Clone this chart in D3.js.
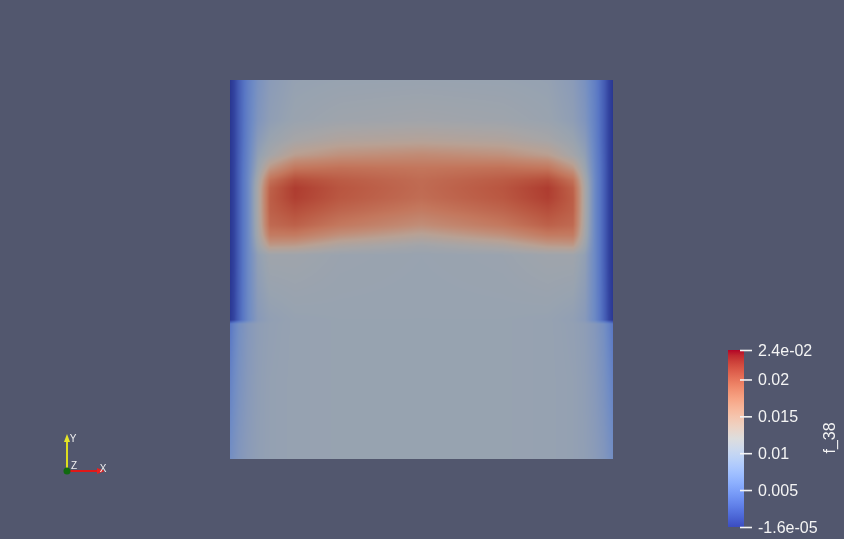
<!DOCTYPE html>
<html><head><meta charset="utf-8">
<script src="https://cdn.jsdelivr.net/npm/d3@7"></script>
<style>
html,body{margin:0;padding:0;background:#52576e;overflow:hidden}
#wrap{position:relative;width:844px;height:539px}
canvas,svg{position:absolute;left:0;top:0}
text{font-family:"Liberation Sans",Arial,sans-serif}
</style></head>
<body><div id="wrap"></div>
<script>
// ---- data ----
const fieldName = "f_38";
const valueMin = -1.6e-5, valueMax = 0.024;
// mesh node coordinates (x left->right, y top->bottom, unit square)
const xNodes = [0,0.0104,0.0235,0.0470,0.0731,0.1044,0.1697,0.2872,0.5,0.7128,0.8303,0.8956,0.9269,0.9530,0.9765,0.9896,1];
const yNodes = [1,0.8945,0.8417,0.8021,0.7678,0.7361,0.7150,0.6887,0.6570,0.6174,0.5910,0.5646,0.5383,0.3668,0.3562,0.2084,0];
// f_38 at the nodes, one row per yNode
const fieldRows = [
 [.0003,.0012,.0030,.0058,.0080,.0094,.0103,.0105,.0106,.0105,.0103,.0094,.0080,.0058,.0030,.0012,.0003],
 [.0003,.0012,.0030,.0060,.0085,.0098,.0107,.0112,.0115,.0112,.0107,.0098,.0085,.0060,.0030,.0012,.0003],
 [.0003,.0012,.0030,.0062,.0093,.0107,.0120,.0130,.0134,.0130,.0120,.0107,.0093,.0062,.0030,.0012,.0003],
 [.0003,.0012,.0031,.0064,.0100,.0118,.0142,.0154,.0160,.0154,.0142,.0118,.0100,.0064,.0031,.0012,.0003],
 [.0003,.0012,.0032,.0066,.0108,.0148,.0179,.0184,.0180,.0184,.0179,.0148,.0108,.0066,.0032,.0012,.0003],
 [.0003,.0012,.0032,.0068,.0118,.0183,.0213,.0201,.0188,.0201,.0213,.0183,.0118,.0068,.0032,.0012,.0003],
 [.0003,.0012,.0032,.0068,.0122,.0196,.0226,.0206,.0189,.0206,.0226,.0196,.0122,.0068,.0032,.0012,.0003],
 [.0003,.0012,.0032,.0068,.0122,.0199,.0224,.0204,.0187,.0204,.0224,.0199,.0122,.0068,.0032,.0012,.0003],
 [.0003,.0012,.0032,.0068,.0122,.0197,.0212,.0194,.0176,.0194,.0212,.0197,.0122,.0068,.0032,.0012,.0003],
 [.0003,.0012,.0032,.0068,.0120,.0190,.0197,.0178,.0157,.0178,.0197,.0190,.0120,.0068,.0032,.0012,.0003],
 [.0003,.0012,.0032,.0068,.0117,.0175,.0176,.0155,.0136,.0155,.0176,.0175,.0117,.0068,.0032,.0012,.0003],
 [.0003,.0012,.0032,.0068,.0110,.0148,.0146,.0128,.0116,.0128,.0146,.0148,.0110,.0068,.0032,.0012,.0003],
 [.0003,.0012,.0032,.0068,.0100,.0113,.0113,.0108,.0106,.0108,.0113,.0113,.0100,.0068,.0032,.0012,.0003],
 [.0004,.0014,.0034,.0068,.0092,.0100,.0104,.0105,.0105,.0105,.0104,.0100,.0092,.0068,.0034,.0014,.0004],
 [.0048,.0062,.0076,.0089,.0097,.0101,.0104,.0105,.0105,.0105,.0104,.0101,.0097,.0089,.0076,.0062,.0048],
 [.0060,.0070,.0080,.0091,.0098,.0102,.0104,.0105,.0105,.0105,.0104,.0102,.0098,.0091,.0080,.0070,.0060],
 [.0074,.0080,.0087,.0094,.0099,.0102,.0104,.0105,.0105,.0105,.0104,.0102,.0099,.0094,.0087,.0080,.0074]
];
const tickValues = [-1.6e-5, 0.005, 0.01, 0.015, 0.02, 0.024];
const tickLabels = ["-1.6e-05","0.005","0.01","0.015","0.02","2.4e-02"];

// ---- styles ----
const coolwarm = ["#3b4cc0","#445acc","#4d68d7","#5775e1","#6282ea","#6c8ef1","#779af7","#82a5fb","#8db0fe","#98b9ff","#a3c2ff","#aec9fd","#b8d0f9","#c2d5f4","#ccd9ee","#d5dbe6","#dddddd","#e5d8d1","#ecd3c5","#f1ccb9","#f5c4ad","#f7bba0","#f7b194","#f7a687","#f49a7b","#f18d6f","#ec7f63","#e57058","#de604d","#d55042","#cb3e38","#c0282f","#b40426"];
const shadeT = [0,0.05,0.12,0.20,0.30,0.38,0.44,0.50,0.58,0.66,0.75,0.85,0.93,1];
const shadeC = ["#26328c","#32429e","#445cb4","#5876c4","#708cc4","#8799ba","#98a3b0","#a6a5a7","#b8a194","#c18c76","#c3765c","#ba5842","#b04032","#a52828"];

const W = 844, H = 539;
const panel = {x:230, y:80, w:383, h:379};
const wrap = d3.select("#wrap");

// field
const xs = d3.scaleLinear().domain([0,1]).range([0, panel.w]);
const ys = d3.scaleLinear().domain([1,0]).range([0, panel.h]);
const tScale = d3.scaleLinear().domain([valueMin, valueMax]).range([0,1]).clamp(true);
const shade = d3.scaleLinear().domain(shadeT).range(shadeC).interpolate(d3.interpolateRgb).clamp(true);

const canvas = wrap.append("canvas").attr("width", panel.w).attr("height", panel.h)
  .style("left", panel.x+"px").style("top", panel.y+"px");
const ctx = canvas.node().getContext("2d");
const img = ctx.createImageData(panel.w, panel.h);
function findIdx(arr, v, desc){
  for (let i=0;i<arr.length-1;i++){
    const a=arr[i], b=arr[i+1];
    if (desc ? (v<=a && v>=b) : (v>=a && v<=b)) return i;
  }
  return arr.length-2;
}
const lut = d3.range(1025).map(i => d3.rgb(shade(i/1024)));
for (let py=0; py<panel.h; py++){
  const my = ys.invert(py+0.5);
  const j = findIdx(yNodes, my, true);
  const fy = (my - yNodes[j])/(yNodes[j+1]-yNodes[j]);
  for (let px=0; px<panel.w; px++){
    const mx = xs.invert(px+0.5);
    const i = findIdx(xNodes, mx, false);
    const fx = (mx - xNodes[i])/(xNodes[i+1]-xNodes[i]);
    const a = fieldRows[j][i], b = fieldRows[j][i+1], c = fieldRows[j+1][i], d = fieldRows[j+1][i+1];
    const v = (a*(1-fx)+b*fx)*(1-fy) + (c*(1-fx)+d*fx)*fy;
    const col = lut[Math.round(tScale(v)*1024)];
    const k = (py*panel.w+px)*4;
    img.data[k]=col.r; img.data[k+1]=col.g; img.data[k+2]=col.b; img.data[k+3]=255;
  }
}
ctx.putImageData(img,0,0);

// overlay svg
const svg = wrap.append("svg").attr("width", W).attr("height", H);
const defs = svg.append("defs");
const grad = defs.append("linearGradient").attr("id","cw").attr("x1",0).attr("y1",1).attr("x2",0).attr("y2",0);
coolwarm.forEach((c,i)=>grad.append("stop").attr("offset", i/(coolwarm.length-1)).attr("stop-color", c));

const bar = {x:728, y:350, w:16, h:177};
const cy = d3.scaleLinear().domain([valueMin, valueMax]).range([bar.y+bar.h, bar.y]);
svg.append("rect").attr("x",bar.x).attr("y",bar.y).attr("width",bar.w).attr("height",bar.h).attr("fill","url(#cw)");
const axis = d3.axisRight(cy).tickValues(tickValues).tickSize(12).tickPadding(6)
  .tickFormat((d,i)=>tickLabels[i]);
const ag = svg.append("g").attr("transform",`translate(${bar.x+12},0)`).call(axis);
ag.select(".domain").remove();
ag.selectAll(".tick line").attr("stroke","#f4f4f4").attr("stroke-width",1.6);
ag.selectAll(".tick text").attr("fill","#f4f4f4").style("font-size","16px").style("font-family","'Liberation Sans',Arial,sans-serif");
svg.append("text").attr("transform","translate(829,438) rotate(-90)")
  .attr("text-anchor","middle").attr("dominant-baseline","central")
  .attr("fill","#f4f4f4").style("font-size","16px").text(fieldName);

// orientation triad
const o = {x:67, y:471};
const tri = svg.append("g");
tri.append("line").attr("x1",o.x).attr("y1",o.y).attr("x2",o.x).attr("y2",o.y-30).attr("stroke","#dede1e").attr("stroke-width",2);
tri.append("path").attr("d",`M${o.x-3},${o.y-29}L${o.x+3},${o.y-29}L${o.x},${o.y-37}Z`).attr("fill","#e6e628");
tri.append("line").attr("x1",o.x).attr("y1",o.y).attr("x2",o.x+31).attr("y2",o.y).attr("stroke","#e01818").attr("stroke-width",2);
tri.append("path").attr("d",`M${o.x+30},${o.y-3}L${o.x+30},${o.y+3}L${o.x+38},${o.y}Z`).attr("fill","#e82020");
tri.append("circle").attr("cx",o.x).attr("cy",o.y).attr("r",3.5).attr("fill","#106a10");
const lab = [["Y",73,438],["Z",74,465],["X",103,468]];
tri.selectAll("text.lab").data(lab).enter().append("text").attr("class","lab")
  .attr("x",d=>d[1]).attr("y",d=>d[2]).attr("text-anchor","middle").attr("dominant-baseline","central")
  .attr("fill","#f0f0f0").style("font-size","10px").text(d=>d[0]);
</script></body></html>
